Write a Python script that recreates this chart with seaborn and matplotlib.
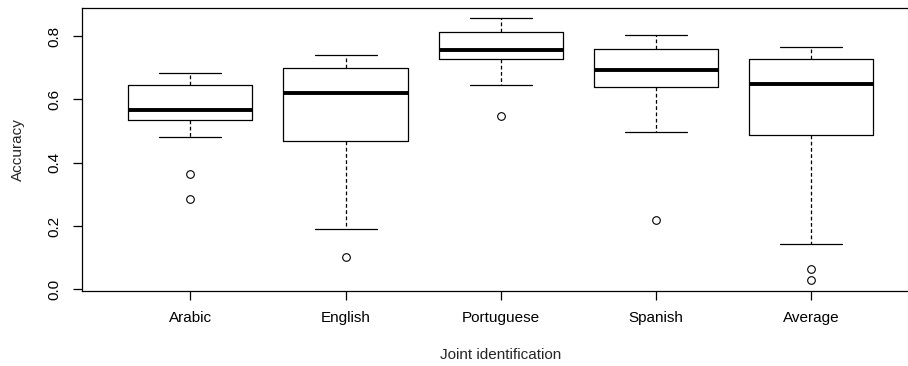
import pandas as pd
import matplotlib
matplotlib.use('Agg')
import matplotlib.pyplot as plt
import seaborn as sns

# Values: each list is laid out so that its
# quartiles, whiskers and outliers land where the reference boxes are
arabic = [0.287, 0.364, 0.482, 0.534, 0.545, 0.556, 0.567, 0.590, 0.620, 0.644, 0.660, 0.672, 0.682]
english = [0.102, 0.190, 0.350, 0.468, 0.520, 0.580, 0.620, 0.650, 0.680, 0.700, 0.715, 0.728, 0.740]
portuguese = [0.547, 0.646, 0.700, 0.728, 0.738, 0.748, 0.757, 0.775, 0.795, 0.814, 0.830, 0.845, 0.856]
spanish = [0.219, 0.497, 0.580, 0.638, 0.655, 0.675, 0.692, 0.715, 0.740, 0.759, 0.775, 0.790, 0.802]
average = [0.029, 0.063, 0.142, 0.486, 0.540, 0.600, 0.647, 0.675, 0.700, 0.726, 0.740, 0.752, 0.764]

languages = ['Arabic', 'English', 'Portuguese', 'Spanish', 'Average']
series = [arabic, english, portuguese, spanish, average]

# Long format table for seaborn
df = pd.DataFrame({
    'Language': [lang for lang, vals in zip(languages, series) for _ in vals],
    'Accuracy': [v for vals in series for v in vals],
})

sns.set_style('white')
plt.rcParams['font.family'] = ['Liberation Sans', 'DejaVu Sans']
plt.rcParams['font.size'] = 11

fig = plt.figure(figsize=(9.08, 3.66), dpi=100)
# the frame runs past the right edge of the image, as in the reference
ax = fig.add_axes([0.09, 0.204, 0.923, 0.7755])

sns.boxplot(data=df, x='Language', y='Accuracy', order=languages, ax=ax,
            fill=False, color='black', width=0.8, whis=1.5, linewidth=0.9,
            boxprops=dict(color='black'),
            medianprops=dict(color='black', linewidth=2.8),
            whiskerprops=dict(color='black', linestyle=(0, (3, 2))),
            capprops=dict(color='black'),
            flierprops=dict(marker='o', markerfacecolor='none', markeredgecolor='black',
                            markersize=5.5, markeredgewidth=0.8))

ax.set_xlim(-0.7, 4.7)
ax.set_ylim(-0.006, 0.890)
ax.set_yticks([0.0, 0.2, 0.4, 0.6, 0.8])
ax.set_yticklabels(['0.0', '0.2', '0.4', '0.6', '0.8'])

for side in ax.spines.values():
    side.set_color('black')
    side.set_linewidth(0.9)
ax.spines['right'].set_visible(False)

ax.tick_params(axis='both', direction='out', length=6.5, width=0.9, color='black',
               labelsize=11, labelcolor='black', bottom=True, left=True)
ax.tick_params(axis='y', labelrotation=90, pad=8)
ax.tick_params(axis='x', pad=8)
for lbl in ax.get_yticklabels():
    lbl.set_va('center')

ax.set_xlabel('Joint identification', fontsize=11)
ax.set_ylabel('Accuracy', fontsize=11)
ax.xaxis.set_label_coords(0.5, -0.2245)
ax.xaxis.label.set_va('center')
ax.yaxis.set_label_coords(-0.0757, 0.5)
ax.yaxis.label.set_va('center')
ax.yaxis.label.set_ha('center')

fig.savefig('out.png', dpi=100, facecolor='white')
